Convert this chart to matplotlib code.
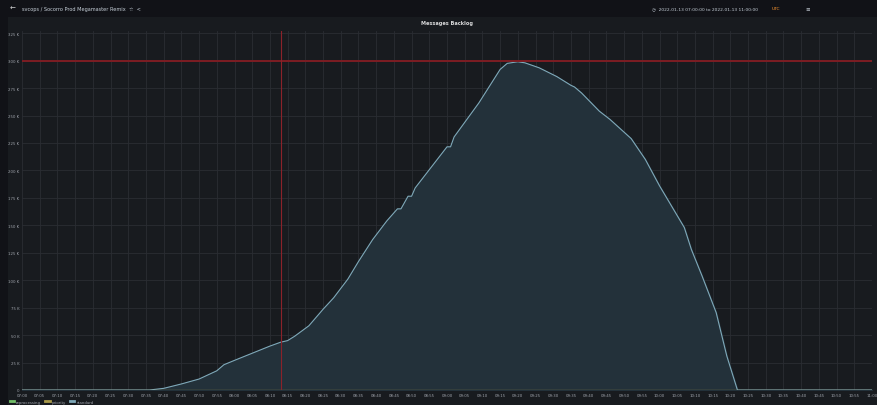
import matplotlib
matplotlib.use("Agg")
import matplotlib.pyplot as plt
import matplotlib.dates as mdates
import pandas as pd

# Messages backlog (thousands)
times = ["07:00", "07:36", "07:40", "07:45", "07:50", "07:55", "07:57", "08:00",
         "08:05", "08:10", "08:13", "08:15", "08:17", "08:21", "08:25", "08:28",
         "08:32", "08:35", "08:39", "08:43", "08:46", "08:47", "08:49", "08:50",
         "08:51", "09:00", "09:01", "09:02", "09:09", "09:15", "09:17", "09:20",
         "09:22", "09:26", "09:31", "09:35", "09:36", "09:38", "09:43", "09:46",
         "09:52", "09:56", "10:00", "10:07", "10:09", "10:12", "10:16", "10:19",
         "10:22", "11:00"]
standard = [0, 0, 1.5, 5.5, 10, 17.5, 23, 27,
            33.5, 40, 43.5, 45, 49, 58.5, 73.5, 84,
            101, 117, 137, 154, 165, 165, 176.5, 176.5,
            184, 221.5, 221.5, 230.5, 261.5, 292, 297.5, 299,
            298, 293.5, 285.5, 277.5, 276, 270.5, 254, 246.5,
            229, 210, 186, 148, 128, 104, 70.5, 31,
            0, 0]
reprocessing = [0, 0]
priority = [0, 0]
threshold = 300
marker_time = "08:13"

y_ticks = [0, 25, 50, 75, 100, 125, 150, 175, 200, 225, 250, 275, 300, 325]
y_labels = ["0"] + [f"{v} K" for v in y_ticks[1:]]

day = "2022-01-13 "
t = pd.to_datetime([day + s for s in times])
t_ends = pd.to_datetime([day + "07:00", day + "11:00"])

bg = "#111217"
panel = "#181b1f"
grid = "#2a2d33"
text_col = "#9fa3ab"

fig = plt.figure(figsize=(8.77, 4.06), dpi=100, facecolor=bg)

# panel background
fig.patches.append(plt.Rectangle((8 / 877, 0), 1, 1 - 18 / 406, transform=fig.transFigure,
                                 facecolor=panel, edgecolor="none", zorder=-5))

# header
fig.text(10 / 877, 1 - 9 / 406, "\u2190", color="#d8d9da", fontsize=5, va="center")
fig.text(22 / 877, 1 - 9 / 406, "svcops / Socorro Prod Megamaster Remix  \u2606  <",
         color="#c7d0d9", fontsize=3.6, va="center")
fig.text(652 / 877, 1 - 9 / 406, "\u25f7  2022-01-13 07:00:00 to 2022-01-13 11:00:00",
         color="#c7d0d9", fontsize=3.2, va="center")
fig.text(772 / 877, 1 - 9 / 406, "UTC", color="#ff9830", fontsize=3.2, va="center")
fig.text(805 / 877, 1 - 9 / 406, "\u2261", color="#c7d0d9", fontsize=4, va="center")

ax = fig.add_axes([22 / 877, 1 - 391 / 406, 850 / 877, (391 - 32) / 406])
ax.set_facecolor(panel)

ax.fill_between(t, standard, color="#23313a", alpha=1.0, zorder=2)
ax.plot(t, standard, color="#7fa9b9", linewidth=0.8, zorder=3, label="standard")
ax.plot(t_ends, reprocessing, color="#73bf69", linewidth=0.6, zorder=3, label="reprocessing")
ax.plot(t_ends, priority, color="#a99a4a", linewidth=0.9, zorder=4, label="priority")

ax.axhline(threshold, color="#7d1d23", linewidth=1.4, zorder=5)
ax.axvline(pd.Timestamp(day + marker_time), color="#8b222a", linewidth=0.8, zorder=5)

ax.set_xlim(t_ends[0], t_ends[1])
ax.set_ylim(0, 327)
ax.set_yticks(y_ticks)
ax.set_yticklabels(y_labels)
ax.xaxis.set_major_locator(mdates.MinuteLocator(byminute=range(0, 60, 5)))
ax.xaxis.set_major_formatter(mdates.DateFormatter("%H:%M"))
ax.grid(True, color=grid, linewidth=0.6, zorder=1)
ax.set_axisbelow(True)
for s in ax.spines.values():
    s.set_visible(False)
ax.tick_params(colors=text_col, labelsize=2.8, length=0, pad=2)

ax.set_title("Messages Backlog", color="#d8d9da", fontsize=3.6, fontweight="bold", pad=5)

handles, labels = ax.get_legend_handles_labels()
order = [1, 2, 0]
leg = fig.legend([handles[i] for i in order], [labels[i] for i in order],
                 loc="lower left", bbox_to_anchor=(6 / 877, -0.005), ncol=3,
                 frameon=False, fontsize=2.8, handlelength=1.2, columnspacing=1.0,
                 handletextpad=0.5)
for txt in leg.get_texts():
    txt.set_color(text_col)
for line in leg.get_lines():
    line.set_linewidth(2)

fig.savefig("out.png", dpi=100, facecolor=bg)
